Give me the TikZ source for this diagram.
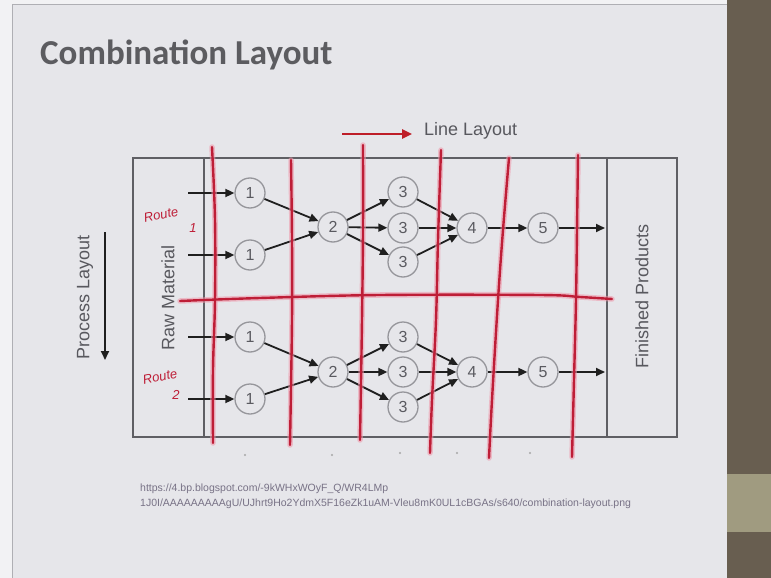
\documentclass[tikz,border=0pt]{standalone}
\usepackage{fontspec}
\setmainfont{Liberation Sans}
\newfontfamily\titlefont{Carlito}
\usetikzlibrary{arrows.meta}

\definecolor{outerbg}{RGB}{242,242,244}
\definecolor{slidebg}{RGB}{230,230,234}
\definecolor{slideedge}{RGB}{175,175,180}
\definecolor{stripbrown}{RGB}{104,94,80}
\definecolor{striptan}{RGB}{160,155,128}
\definecolor{titlegray}{RGB}{92,92,96}
\definecolor{labelgray}{RGB}{88,88,94}
\definecolor{boxgray}{RGB}{95,95,100}
\definecolor{ringgray}{RGB}{150,150,155}
\definecolor{numgray}{RGB}{90,90,96}
\definecolor{penred}{RGB}{190,30,55}
\definecolor{penglow}{RGB}{240,150,170}
\definecolor{arrowred}{RGB}{190,30,40}
\definecolor{urlgray}{RGB}{120,114,134}

\tikzset{
  station/.style={circle, draw=ringgray, line width=1.3pt, fill=slidebg,
    minimum size=30pt, inner sep=0pt, text=numgray,
    font=\fontsize{16}{16}\selectfont},
  flow/.style={-{Triangle[length=9pt,width=8pt]}, line width=1.8pt, black!88},
  redarrow/.style={-{Triangle[length=10pt,width=9pt]}, line width=2.4pt, arrowred},
  boxline/.style={draw=boxgray, line width=1.4pt},
  lbl/.style={text=labelgray, font=\fontsize{18}{18}\selectfont, inner sep=0pt},
  penglowline/.style={draw=penglow, line width=5.5pt, line cap=round, line join=round, opacity=0.55},
  redpen/.style={draw=penred, line width=2.4pt, line cap=round, line join=round},
  scribble/.style={text=penred, font=\itshape\fontsize{13}{13}\selectfont, inner sep=0pt},
  urltext/.style={text=urlgray, font=\fontsize{10.5}{10.5}\selectfont, inner sep=0pt, anchor=base west},
  tick/.style={fill=gray!70},
}

\begin{document}
\begin{tikzpicture}[x=1pt,y=-1pt]
\useasboundingbox (0,0) rectangle (771,578);

% slide and projector surround
\fill[outerbg] (0,0) rectangle (771,578);
\fill[slidebg] (12,4) rectangle (727,578);
\draw[slideedge, line width=0.8pt] (12,578) -- (12,4) -- (727,4);
\fill[stripbrown] (727,0) rectangle (771,578);
\fill[striptan] (727,474) rectangle (771,532);

% title
\node[anchor=base west, inner sep=0pt, text=titlegray,
  font=\titlefont\bfseries\fontsize{35}{35}\selectfont] (title) at (40,64) {Combination Layout};

% line layout direction
\coordinate (ll0) at (342,134);
\coordinate (ll1) at (412,134);
\draw[redarrow] (ll0) -- (ll1);
\node[lbl, anchor=west] (lltxt) at (424,131) {Line Layout};

% process layout direction
\coordinate (pl0) at (105,232);
\coordinate (pl1) at (105,360);
\draw[flow] (pl0) -- (pl1);
\node[lbl, rotate=90] (pltxt) at (85,297) {Process Layout};

% frame with raw material and finished products columns
\draw[boxline] (133,158) rectangle (677,437);
\draw[boxline] (204,158) -- (204,437);
\draw[boxline] (607,158) -- (607,437);
\node[lbl, rotate=90] (raw) at (168,298) {Raw Material};
\node[lbl, rotate=90] (fin) at (642,296) {Finished Products};

% upper route
\node[station] (a1)  at (250,193) {1};
\node[station] (a1b) at (250,255) {1};
\node[station] (a2)  at (333,227) {2};
\node[station] (a3)  at (403,192) {3};
\node[station] (a3b) at (403,228) {3};
\node[station] (a3c) at (403,262) {3};
\node[station] (a4)  at (472,228) {4};
\node[station] (a5)  at (543,228) {5};
\coordinate (ain1) at (188,193);
\coordinate (ain2) at (188,255);
\coordinate (aout) at (605,228);

% lower route
\node[station] (b1)  at (250,337) {1};
\node[station] (b1b) at (250,399) {1};
\node[station] (b2)  at (333,372) {2};
\node[station] (b3)  at (403,337) {3};
\node[station] (b3b) at (403,372) {3};
\node[station] (b3c) at (403,407) {3};
\node[station] (b4)  at (472,372) {4};
\node[station] (b5)  at (543,372) {5};
\coordinate (bin1) at (188,337);
\coordinate (bin2) at (188,399);
\coordinate (bout) at (605,372);

\foreach \r in {a,b}{
  \draw[flow] (\r in1) -- (\r1);
  \draw[flow] (\r in2) -- (\r1b);
  \draw[flow] (\r1) -- (\r2);
  \draw[flow] (\r1b) -- (\r2);
  \draw[flow] (\r2) -- (\r3);
  \draw[flow] (\r2) -- (\r3b);
  \draw[flow] (\r2) -- (\r3c);
  \draw[flow] (\r3) -- (\r4);
  \draw[flow] (\r3b) -- (\r4);
  \draw[flow] (\r3c) -- (\r4);
  \draw[flow] (\r4) -- (\r5);
  \draw[flow] (\r5) -- (\r out);
}

% small marks under the frame
\foreach \x/\y in {245/455, 332/455, 400/453, 457/453, 530/453}
  \fill[tick] (\x,\y) circle (1.2pt);

% source address
\node[urltext] (url1) at (140,491) {https://4.bp.blogspot.com/-9kWHxWOyF\_Q/WR4LMp};
\node[urltext] (url2) at (140,506) {1J0I/AAAAAAAAAgU/UJhrt9Ho2YdmX5F16eZk1uAM-Vleu8mK0UL1cBGAs/s640/combination-layout.png};

% hand-drawn pen marks: soft glow first, then the ink
\foreach \st in {penglowline, redpen}{
  \draw[\st] plot[smooth, tension=0.6] coordinates {(212,147) (215,220) (215,300) (213,370) (213,443)};
  \draw[\st] plot[smooth, tension=0.6] coordinates {(291,160) (292,240) (292,320) (290,445)};
  \draw[\st] plot[smooth, tension=0.6] coordinates {(363,145) (363,230) (362,320) (360,440)};
  \draw[\st] plot[smooth, tension=0.6] coordinates {(441,150) (438,240) (436,320) (432,400) (430,453)};
  \draw[\st] plot[smooth, tension=0.6] coordinates {(509,158) (503,230) (498,300) (492,400) (489,458)};
  \draw[\st] plot[smooth, tension=0.6] coordinates {(578,155) (577,230) (576,300) (574,380) (572,457)};
  \draw[\st] plot[smooth, tension=0.6] coordinates {(180,301) (260,298) (380,295) (540,295) (580,297) (612,299)};
}

\node[scribble, rotate=12] (route1) at (161,215) {Route};
\node[scribble] (route1n) at (193,228) {1};
\node[scribble, rotate=12] (route2) at (160,377) {Route};
\node[scribble] (route2n) at (176,395) {2};
\end{tikzpicture}
\end{document}
